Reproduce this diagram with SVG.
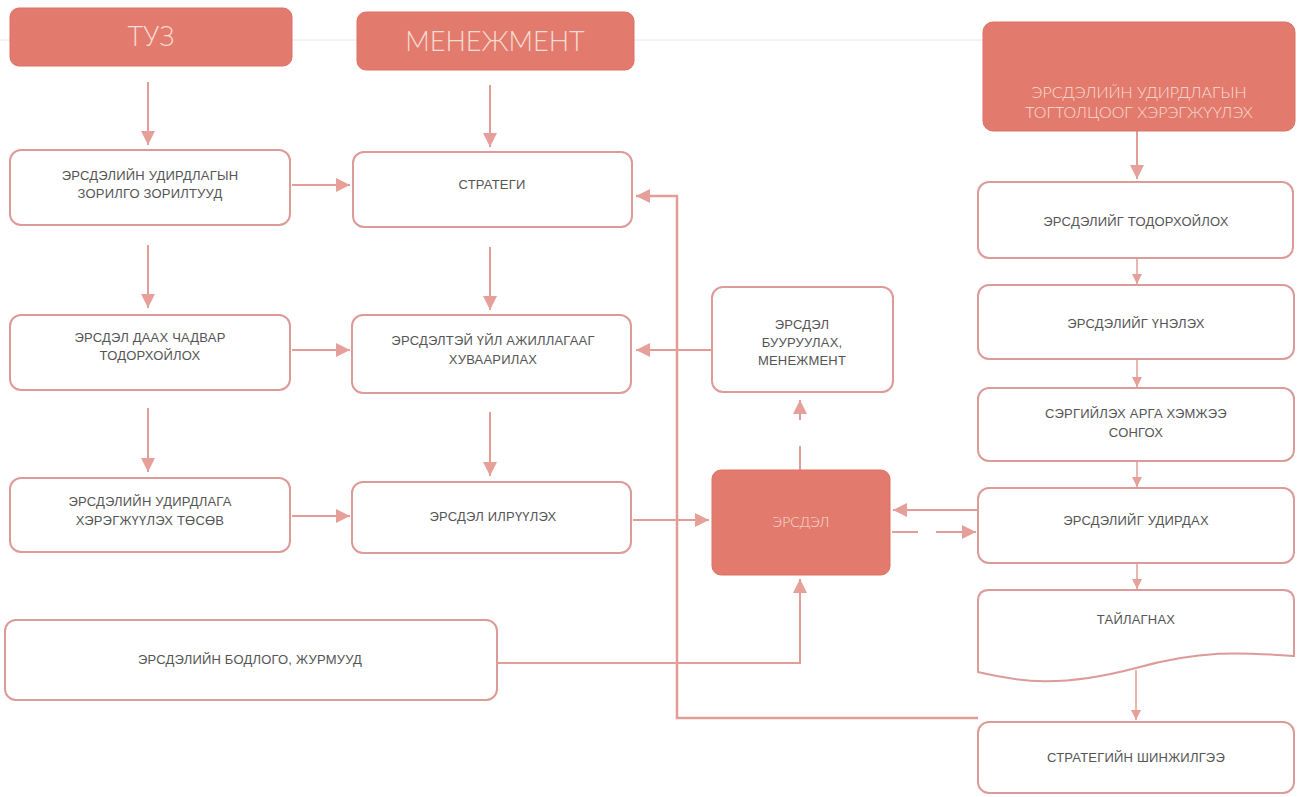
<svg xmlns="http://www.w3.org/2000/svg" width="1301" height="797" viewBox="0 0 1301 797">
<style>
.box{fill:#fff;stroke:#dc9a98;stroke-width:2}
.hdr{fill:#e27b6d;stroke:#dd7064;stroke-width:1}
.t{font-family:"Liberation Sans","Noto Sans",sans-serif;font-size:13px;fill:#555;text-anchor:middle;letter-spacing:0.2px}
.th{font-family:Lato,"Liberation Sans",sans-serif;font-weight:300;fill:#f8ddd4;text-anchor:middle}
.c{fill:none;stroke:#e49c97;stroke-width:2}
.cs{fill:none;stroke:#e49c97;stroke-width:1.5}
</style>
<defs>
<marker id="ah" markerUnits="userSpaceOnUse" markerWidth="16" markerHeight="16" refX="14" refY="7" orient="auto">
<path d="M0,0 L14,7 L0,14 Z" fill="#e69f99"/>
</marker>
<marker id="as" markerUnits="userSpaceOnUse" markerWidth="12" markerHeight="12" refX="10" refY="5" orient="auto">
<path d="M0,0 L10,5 L0,10 Z" fill="#e69f99"/>
</marker>
<linearGradient id="g" x1="0" y1="0" x2="0" y2="1">
<stop offset="0" stop-color="#df7467"/>
<stop offset="0.5" stop-color="#e88a78"/>
<stop offset="1" stop-color="#df7467"/>
</linearGradient>
</defs>
<rect width="1301" height="797" fill="#fff"/>
<line x1="0" y1="40" x2="983" y2="40" stroke="#e8e8e8" stroke-width="1"/>

<g id="connectors">
<path class="c" d="M148,82 V145" marker-end="url(#ah)"/>
<path class="c" d="M490,85 V147" marker-end="url(#ah)"/>
<path class="c" d="M148,245 V308" marker-end="url(#ah)"/>
<path class="c" d="M490,247 V310" marker-end="url(#ah)"/>
<path class="c" d="M148,408 V472" marker-end="url(#ah)"/>
<path class="c" d="M490,412 V476" marker-end="url(#ah)"/>
<path class="c" d="M292,185 H350" marker-end="url(#ah)"/>
<path class="c" d="M292,350 H350" marker-end="url(#ah)"/>
<path class="c" d="M292,516 H350" marker-end="url(#ah)"/>
<path class="c" d="M633,520 H709" marker-end="url(#ah)"/>
<path class="c" d="M712,350 H636" marker-end="url(#ah)"/>
<path class="c" style="stroke-width:2.5" d="M978,718 H677 V196 H636" marker-end="url(#ah)"/>
<path class="c" d="M497,663 H800 V579" marker-end="url(#ah)"/>
<path class="c" d="M800,470 V400" stroke-dasharray="24 26 20" marker-end="url(#ah)"/>
<path class="c" d="M978,510 H893" marker-end="url(#ah)"/>
<path class="c" d="M892,532 H976" stroke-dasharray="26 18 40" marker-end="url(#ah)"/>
<path class="c" d="M1137,131 V179" marker-end="url(#ah)"/>
<path class="cs" d="M1137,258 V284" marker-end="url(#as)"/>
<path class="cs" d="M1137,360 V387" marker-end="url(#as)"/>
<path class="cs" d="M1137,462 V487" marker-end="url(#as)"/>
<path class="cs" d="M1137,563 V589" marker-end="url(#as)"/>
<path class="cs" d="M1136,670 V720" marker-end="url(#as)"/>
</g>

<g id="tuz"><rect class="hdr" x="10" y="8" width="282" height="58" rx="9" fill="url(#g)"/><text class="th" x="151" y="46" font-size="27">ТУЗ</text></g>
<g id="menejment"><rect class="hdr" x="357" y="12" width="277" height="58" rx="9" fill="url(#g)"/><text class="th" x="495" y="51" font-size="27">МЕНЕЖМЕНТ</text></g>
<g id="tegtoltsoo"><rect class="hdr" x="983" y="22" width="312" height="109" rx="10" fill="url(#g)"/><text class="th" x="1139" y="98" font-size="16">ЭРСДЭЛИЙН УДИРДЛАГЫН</text><text class="th" x="1139" y="118" font-size="16">ТОГТОЛЦООГ ХЭРЭГЖҮҮЛЭХ</text></g>

<g id="zorilgo"><rect class="box" x="10" y="150" width="280" height="75" rx="11"/><text class="t" x="150" y="180">ЭРСДЭЛИЙН УДИРДЛАГЫН</text><text class="t" x="150" y="198">ЗОРИЛГО ЗОРИЛТУУД</text></g>
<g id="chadvar"><rect class="box" x="10" y="315" width="280" height="75" rx="11"/><text class="t" x="150" y="342">ЭРСДЭЛ ДААХ ЧАДВАР</text><text class="t" x="150" y="360">ТОДОРХОЙЛОХ</text></g>
<g id="tosov"><rect class="box" x="10" y="478" width="280" height="74" rx="11"/><text class="t" x="150" y="506">ЭРСДЭЛИЙН УДИРДЛАГА</text><text class="t" x="150" y="525">ХЭРЭГЖҮҮЛЭХ ТӨСӨВ</text></g>
<g id="bodlogo"><rect class="box" x="5" y="620" width="492" height="80" rx="11"/><text class="t" x="250" y="664">ЭРСДЭЛИЙН БОДЛОГО, ЖУРМУУД</text></g>

<g id="strategi"><rect class="box" x="353" y="152" width="279" height="75" rx="11"/><text class="t" x="492" y="189">СТРАТЕГИ</text></g>
<g id="huvaarilah"><rect class="box" x="352" y="315" width="279" height="78" rx="11"/><text class="t" x="493" y="345">ЭРСДЭЛТЭЙ ҮЙЛ АЖИЛЛАГААГ</text><text class="t" x="493" y="364">ХУВААРИЛАХ</text></g>
<g id="ilruuleh"><rect class="box" x="352" y="482" width="279" height="71" rx="11"/><text class="t" x="493" y="521">ЭРСДЭЛ ИЛРҮҮЛЭХ</text></g>

<g id="buuruulah"><rect class="box" x="712" y="287" width="181" height="105" rx="11"/><text class="t" x="802" y="329">ЭРСДЭЛ</text><text class="t" x="802" y="347">БУУРУУЛАХ,</text><text class="t" x="802" y="365">МЕНЕЖМЕНТ</text></g>
<g id="ersdel"><rect class="hdr" x="712" y="470" width="178" height="105" rx="9" fill="url(#g)"/><text class="th" x="801" y="527" font-size="14">ЭРСДЭЛ</text></g>

<g id="todorhoiloh"><rect class="box" x="978" y="182" width="315" height="76" rx="11"/><text class="t" x="1136" y="226">ЭРСДЭЛИЙГ ТОДОРХОЙЛОХ</text></g>
<g id="uneleh"><rect class="box" x="978" y="285" width="316" height="74" rx="11"/><text class="t" x="1136" y="328">ЭРСДЭЛИЙГ ҮНЭЛЭХ</text></g>
<g id="songoh"><rect class="box" x="978" y="388" width="316" height="73" rx="11"/><text class="t" x="1136" y="418">СЭРГИЙЛЭХ АРГА ХЭМЖЭЭ</text><text class="t" x="1136" y="437">СОНГОХ</text></g>
<g id="udirdah"><rect class="box" x="978" y="488" width="316" height="75" rx="11"/><text class="t" x="1136" y="525">ЭРСДЭЛИЙГ УДИРДАХ</text></g>
<g id="tailagnah"><path class="box" d="M989,590 H1283 Q1294,590 1294,601 V656 C1240,652 1200,650 1136,668 C1060,688 1020,682 978,672 V601 Q978,590 989,590 Z"/><text class="t" x="1136" y="624">ТАЙЛАГНАХ</text></g>
<g id="shinjilgee"><rect class="box" x="978" y="722" width="316" height="71" rx="11"/><text class="t" x="1136" y="762">СТРАТЕГИЙН ШИНЖИЛГЭЭ</text></g>
</svg>
